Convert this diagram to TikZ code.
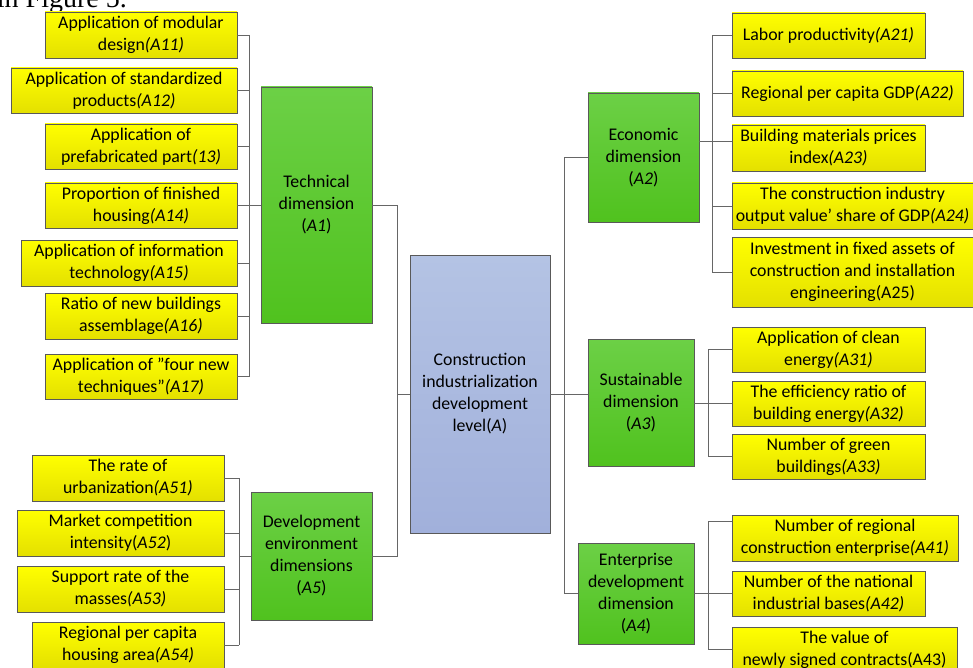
\documentclass[tikz,border=0pt]{standalone}
\usepackage{fontspec}
\setmainfont{Carlito}
\newfontfamily\serifpart{Liberation Serif}
\begin{document}
\begin{tikzpicture}[x=1pt,y=-1pt,
  every node/.style={font=\fontsize{17.8}{22}\selectfont, align=center, inner sep=0pt},
  ybox/.style={draw=black!65, line width=0.9pt, top color=yellow, bottom color={rgb,255:red,228;green,224;blue,0}},
  gbox/.style={draw=black!65, line width=0.9pt, top color={rgb,255:red,108;green,208;blue,70}, bottom color={rgb,255:red,80;green,194;blue,30}},
  bbox/.style={draw=black!65, line width=0.9pt, top color={rgb,255:red,180;green,195;blue,228}, bottom color={rgb,255:red,161;green,176;blue,219}},
  conn/.style={draw=black!60, line width=0.9pt}]
\useasboundingbox (0,0) rectangle (973,668);
\clip (0,0) rectangle (973,668);
\newcommand\bx[7]{\node[#1, minimum width={(#5-#3)*1pt}, minimum height={(#6-#4)*1pt}] (#2) at ({(#3+#5)/2},{(#4+#6)/2}) {#7};}
% top text fragment (cut off by the top edge, as in the reference)
\node[font=\serifpart\fontsize{28}{30}\selectfont, anchor=base east] (cap) at (127,8) {in Figure 5.};
% left group A1
\bx{ybox}{A11}{45}{12}{237}{58}{Application of modular\\design\textit{(A11)}}
\bx{ybox}{A12}{11}{68}{237}{113}{Application of standardized\\products\textit{(A12)}}
\bx{ybox}{A13}{45}{124}{237}{169}{Application of\\prefabricated part\textit{(13)}}
\bx{ybox}{A14}{45}{183}{237}{228}{Proportion of finished\\housing\textit{(A14)}}
\bx{ybox}{A15}{21}{240}{237}{286}{Application of information\\technology\textit{(A15)}}
\bx{ybox}{A16}{45}{293}{237}{339}{Ratio of new buildings\\assemblage\textit{(A16)}}
\bx{ybox}{A17}{45}{354}{237}{399}{Application of "four new\\techniques"\textit{(A17)}}
\bx{gbox}{A1}{261}{87}{372}{323}{Technical\\dimension\\(\textit{A1})}
% left group A5
\bx{ybox}{A51}{32}{455}{224}{501}{The rate of\\urbanization\textit{(A51)}}
\bx{ybox}{A52}{17}{510}{224}{556}{Market competition\\intensity(\textit{A52})}
\bx{ybox}{A53}{17}{566}{224}{612}{Support rate of the\\masses\textit{(A53)}}
\bx{ybox}{A54}{32}{622}{224}{668}{Regional per capita\\housing area\textit{(A54)}}
\bx{gbox}{A5}{251}{492}{372}{620}{Development\\environment\\dimensions\\(\textit{A5})}
% centre
\bx{bbox}{C}{410}{255}{550}{533}{Construction\\industrialization\\development\\level(\textit{A})}
% right A2
\bx{gbox}{A2}{588}{93}{699}{222}{Economic\\dimension\\(\textit{A2})}
\bx{ybox}{A21}{732}{13}{925}{58}{Labor productivity\textit{(A21)}}
\bx{ybox}{A22}{732}{71}{963}{116}{Regional per capita GDP\textit{(A22)}}
\bx{ybox}{A23}{732}{125}{925}{171}{Building materials prices\\index\textit{(A23)}}
\bx{ybox}{A24}{732}{183}{990}{229}{\hspace*{-17pt}The construction industry\\\hspace*{-17pt}output value’ share of GDP\textit{(A24)}}
\bx{ybox}{A25}{732}{237}{990}{307}{\hspace*{-17pt}Investment in fixed assets of\\\hspace*{-17pt}construction and installation\\\hspace*{-17pt}engineering(A25)}
% right A3
\bx{gbox}{A3}{588}{339}{694}{466}{Sustainable\\dimension\\(\textit{A3})}
\bx{ybox}{A31}{732}{327}{925}{372}{Application of clean\\energy\textit{(A31)}}
\bx{ybox}{A32}{732}{381}{925}{426}{The efficiency ratio of\\building energy\textit{(A32)}}
\bx{ybox}{A33}{732}{434}{925}{479}{Number of green\\buildings\textit{(A33)}}
% right A4
\bx{gbox}{A4}{578}{543}{694}{644}{Enterprise\\development\\dimension\\(\textit{A4})}
\bx{ybox}{A41}{732}{515}{958}{561}{Number of regional\\construction enterprise\textit{(A41)}}
\bx{ybox}{A42}{732}{571}{925}{616}{Number of the national\\industrial bases\textit{(A42)}}
\bx{ybox}{A43}{732}{627}{957}{673}{The value of\\newly signed contracts(A43)}
% bracket coordinates
\coordinate (b1) at (249,0);
\coordinate (b5) at (239,0);
\coordinate (cl) at (397,0);
\coordinate (cr) at (564,0);
\coordinate (b2) at (712,0);
\coordinate (b3) at (708,0);
\coordinate (b4) at (708,0);
\coordinate (y23) at (0,141);
\coordinate (y41) at (0,521);
\coordinate (y43) at (0,649);
% A1 bracket
\foreach \n in {A11,A12,A13,A15,A16,A17} \draw[conn] (\n.east) -- (\n.east -| b1);
\draw[conn] (A11.east -| b1) -- (A17.east -| b1);
\draw[conn] (A14.east) -- (A1.west |- A14.east);
\draw[conn] (A1.east) -- (A1.east -| cl) |- (C.west);
% A5 bracket
\foreach \n in {A51,A52,A53,A54} \draw[conn] (\n.east) -- (\n.east -| b5);
\draw[conn] (A51.east -| b5) -- (A54.east -| b5);
\draw[conn] (A5.west -| b5) -- (A5.west);
\draw[conn] (A5.east) -- (A5.east -| cl) |- (C.west);
% right trunk
\draw[conn] (C.east) -- (A3.west |- C.east);
\draw[conn] (A2.west) -- (A2.west -| cr);
\draw[conn] (A4.west) -- (A4.west -| cr);
\draw[conn] (A2.west -| cr) -- (A4.west -| cr);
% A2 bracket
\foreach \n in {A21,A22,A24,A25} \draw[conn] (\n.west) -- (\n.west -| b2);
\draw[conn] (A2.east |- y23) -- (A23.west |- y23);
\draw[conn] (A21.west -| b2) -- (A25.west -| b2);
% A3 bracket
\foreach \n in {A31,A33} \draw[conn] (\n.west) -- (\n.west -| b3);
\draw[conn] (A3.east |- A32.west) -- (A32.west);
\draw[conn] (A31.west -| b3) -- (A33.west -| b3);
% A4 bracket
\draw[conn] (A41.west |- y41) -- (b4 |- y41);
\draw[conn] (A43.west |- y43) -- (b4 |- y43);
\draw[conn] (A4.east |- A42.west) -- (A42.west);
\draw[conn] (b4 |- y41) -- (b4 |- y43);
\end{tikzpicture}
\end{document}
